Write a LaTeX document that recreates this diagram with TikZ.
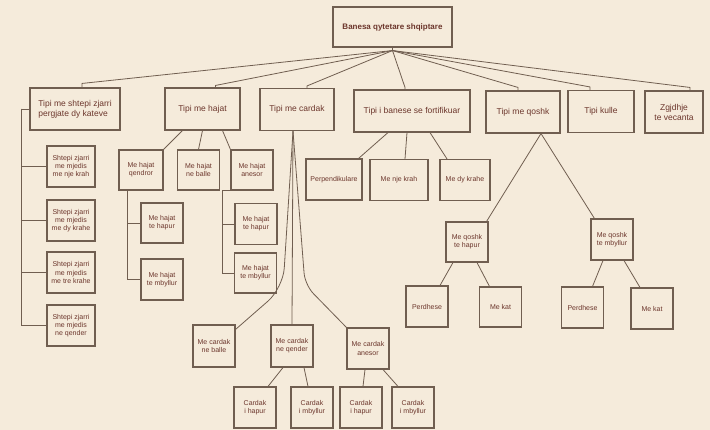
\documentclass[tikz,border=0pt]{standalone}
\usepackage{fontspec}
\setmainfont{Liberation Sans}
\definecolor{paper}{RGB}{245,235,219}
\definecolor{edge}{RGB}{112,94,80}
\definecolor{ink}{RGB}{108,54,44}
\begin{document}
\begin{tikzpicture}[x=1pt, y=-1pt,
    box/.style={draw=edge, line width=1.1pt, inner sep=1pt, align=center, text=ink,
        font=\fontsize{7}{8.3}\selectfont},
    small/.style={box, minimum width=42pt, minimum height=41pt},
    side/.style={box, minimum width=48pt, minimum height=41pt},
    tip/.style={box, minimum height=42pt, font=\fontsize{8.5}{10}\selectfont},
    link/.style={draw=edge, line width=0.8pt}]
            \useasboundingbox[fill=paper] (0,0) rectangle (710,430);

            \node[box, minimum width=119pt, minimum height=40pt, font=\fontsize{8}{10}\selectfont\bfseries] (root) at (392.5,27) {Banesa qytetare shqiptare};

            \node[tip, minimum width=90pt, align=left] (t1) at (75,109) {Tipi me shtepi zjarri\\pergjate dy kateve};
            \node[tip, minimum width=75pt] (t2) at (202.5,109) {Tipi me hajat};
            \node[tip, minimum width=74pt] (t3) at (297,109.5) {Tipi me cardak};
            \node[tip, minimum width=116pt] (t4) at (412,111) {Tipi i banese se fortifikuar};
            \node[tip, minimum width=74pt] (t5) at (523,112) {Tipi me qoshk};
            \node[tip, minimum width=66pt] (t6) at (601,111.5) {Tipi kulle};
            \node[tip, minimum width=58pt] (t7) at (674,112) {Zgjdhje\\te vecanta};

            \node[side] (s1) at (71,166.5) {Shtepi zjarri\\me mjedis\\me nje krah};
            \node[side] (s2) at (71,220.5) {Shtepi zjarri\\me mjedis\\me dy krahe};
            \node[side] (s3) at (71,272.5) {Shtepi zjarri\\me mjedis\\me tre krahe};
            \node[side] (s4) at (71,325.5) {Shtepi zjarri\\me mjedis\\ne qender};

            \node[small, minimum width=44pt, minimum height=40pt] (h1) at (141,170) {Me hajat\\qendror};
            \node[small, minimum height=40pt] (h2) at (198.5,170) {Me hajat\\ne balle};
            \node[small, minimum height=40pt] (h3) at (252,170) {Me hajat\\anesor};
            \node[small, minimum height=40pt] (h4) at (162,223) {Me hajat\\te hapur};
            \node[small] (h5) at (162,279.5) {Me hajat\\te mbyllur};
            \node[small] (h6) at (256,224) {Me hajat\\te hapur};
            \node[small, minimum height=40pt] (h7) at (255.5,273) {Me hajat\\te mbyllur};

            \node[small, minimum width=56pt] (f1) at (334,179.5) {Perpendikulare};
            \node[small, minimum width=58pt] (f2) at (399,180) {Me nje krah};
            \node[small, minimum width=50pt] (f3) at (465,180) {Me dy krahe};

            \node[small, minimum height=40pt] (q1) at (467,242) {Me qoshk\\te hapur};
            \node[small] (q2) at (612,239.5) {Me qoshk\\te mbyllur};
            \node[small] (q3) at (427,306.5) {Perdhese};
            \node[small, minimum height=40pt] (q4) at (500.5,307) {Me kat};
            \node[small] (q5) at (582.5,307.5) {Perdhese};
            \node[small] (q6) at (652,308.5) {Me kat};

            \node[small, minimum height=42pt] (c1) at (214,346) {Me cardak\\ne balle};
            \node[small, minimum height=42pt] (c2) at (292,346) {Me cardak\\ne qender};
            \node[small] (c3) at (368,348.5) {Me cardak\\anesor};
            \node[small] (c4) at (255,407.5) {Cardak\\i hapur};
            \node[small] (c5) at (312,407.5) {Cardak\\i mbyllur};
            \node[small] (c6) at (361,407.5) {Cardak\\i hapur};
            \node[small] (c7) at (413,407.5) {Cardak\\i mbyllur};

            \path ([yshift=-3pt]root.south) coordinate (hub);
            \draw[link] (root.south) -- (hub);
            \draw[link] (hub) -- ([xshift=7pt,yshift=4pt]t1.north) -- ([xshift=7pt]t1.north);
            \draw[link] (hub) -- ([xshift=13pt,yshift=2pt]t2.north) -- ([xshift=13pt]t2.north);
            \draw[link] (hub) -- ([xshift=10pt,yshift=2pt]t3.north) -- ([xshift=10pt]t3.north);
            \draw[link] (hub) -- ([xshift=-7pt,yshift=2pt]t4.north) -- ([xshift=-7pt]t4.north);
            \draw[link] (hub) -- ([xshift=-5pt,yshift=3pt]t5.north) -- ([xshift=-5pt]t5.north);
            \draw[link] (hub) -- ([xshift=-11pt,yshift=3pt]t6.north) -- ([xshift=-11pt]t6.north);
            \draw[link] (hub) -- ([xshift=16pt,yshift=3pt]t7.north) -- ([xshift=16pt]t7.north);

            \path (t1.west) ++(-8,0) coordinate (spine1);
            \draw[link] (t1.west) -- (spine1) |- (s4.west);
            \foreach \n in {s1,s2,s3} \draw[link] (spine1) |- (\n.west);

            \draw[link] ([xshift=-20pt]t2.south) -- (h1.north east);
            \draw[link] (t2.south) -- (h2.north);
            \draw[link] ([xshift=20pt]t2.south) -- (h3.north west);
            \path ([xshift=-14pt]h1.south) coordinate (qspine);
            \draw[link] (qspine) |- (h5.west);
            \draw[link] (qspine) |- (h4.west);
            \path ([xshift=-8pt]h3.south west) coordinate (aspine);
            \draw[link] (h3.south west) -- (aspine) |- (h7.west);
            \draw[link] (aspine) |- (h6.west);

            \draw[link] ([xshift=-24pt]t4.south) -- ([xshift=-4pt]f1.north east);
            \draw[link] ([xshift=-5pt]t4.south) -- ([xshift=6pt]f2.north);
            \draw[link] ([xshift=18pt]t4.south) -- ([xshift=-18pt]f3.north);

            \path ([xshift=18pt]t5.south) coordinate (qapex);
            \draw[link] (qapex) -- ([xshift=-2pt]q1.north east);
            \draw[link] (qapex) -- ([xshift=4pt]q2.north west);
            \draw[link] ([xshift=-14pt]q1.south) -- ([xshift=13pt]q3.north);
            \draw[link] ([xshift=10pt]q1.south) -- ([xshift=-11pt]q4.north);
            \draw[link] ([xshift=-9pt]q2.south) -- ([xshift=10pt]q5.north);
            \draw[link] ([xshift=12pt]q2.south) -- ([xshift=-12pt]q6.north);

            \path ([xshift=-4pt]t3.south) coordinate (chub);
            \draw[link, rounded corners=20pt] (chub) -- (283,288) -- ([yshift=-5pt]c1.north east);
            \draw[link] (chub) -- (c2.north);
            \draw[link, rounded corners=12pt] (chub) -- (305,285) -- (c3.north west);
            \draw[link] ([xshift=-9pt]c2.south) -- ([xshift=13pt]c4.north);
            \draw[link] ([xshift=12pt]c2.south) -- ([xshift=-4pt]c5.north);
            \draw[link] ([xshift=-3pt]c3.south) -- ([xshift=2pt]c6.north);
            \draw[link] ([xshift=15pt]c3.south) -- ([xshift=-15pt]c7.north);
        \end{tikzpicture}
\end{document}
